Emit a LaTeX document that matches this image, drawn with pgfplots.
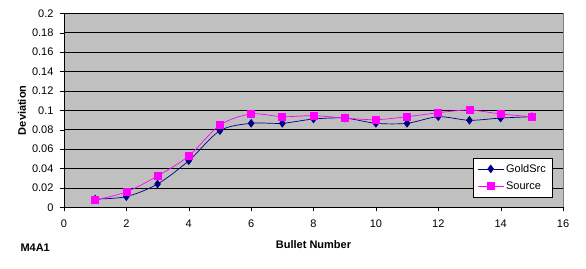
\documentclass[border=0pt]{standalone}
\usepackage{pgfplots}
\pgfplotsset{compat=1.18}
\usepackage{fontspec}
\setmainfont{Liberation Sans}
\definecolor{plotbg}{HTML}{C0C0C0}
\definecolor{navyline}{HTML}{000080}
\definecolor{magline}{HTML}{FF00FF}
\begin{document}
\begin{tikzpicture}
\useasboundingbox[fill=white] (-64bp,-61.7bp) rectangle (522bp,207.3bp);
\begin{axis}[
  at={(0,0)}, anchor=south west,
  scale only axis, width=499bp, height=194bp,
  xmin=0, xmax=16, ymin=0, ymax=0.2,
  xtick={0,2,...,16}, ytick={0,0.02,...,0.2},
  axis lines=left, axis line style={-, black},
  axis background/.style={fill=plotbg, draw=gray},
  ymajorgrids, major grid style={black, line width=0.8pt},
  tick align=outside, major tick length=4bp, tick style={black},
  /pgf/number format/assume math mode=true,
  /pgf/number format/fixed, /pgf/number format/precision=2,
  ticklabel style={font=\fontsize{11bp}{13bp}\selectfont},
  xticklabel style={yshift=-5bp},
  yticklabel style={xshift=-3bp},
  xlabel={\textbf{Bullet Number}},
  label style={font=\fontsize{11bp}{13bp}\selectfont},
  xlabel style={at={(0.5,0)}, anchor=center, yshift=-37bp},
  legend style={at={(0.978,0.053)}, anchor=south east, draw=black, fill=white,
    font=\fontsize{11bp}{13bp}\selectfont, row sep=4bp, inner xsep=4bp, inner ysep=4bp},
  legend image code/.code={
    \draw[mark repeat=2,mark phase=2,#1] plot coordinates {(0bp,0bp) (13bp,0bp) (26bp,0bp)};},
  legend cell align=left,
  clip=false,
]
\addplot[navyline, line width=0.7pt, smooth, tension=0.5, mark=diamond*, mark size=3.8bp, mark options={fill=navyline, solid}]
 coordinates {(1,0.0085)(2,0.011)(3,0.024)(4,0.048)(5,0.079)(6,0.0866)(7,0.0866)(8,0.091)(9,0.092)(10,0.0866)(11,0.0866)(12,0.0934)(13,0.0897)(14,0.092)(15,0.0934)};
\addlegendentry{GoldSrc}
\addplot[magline, line width=0.7pt, smooth, tension=0.5, mark=square*, mark size=3.5bp, mark options={fill=magline, solid}]
 coordinates {(1,0.0075)(2,0.0158)(3,0.0323)(4,0.0529)(5,0.0848)(6,0.0962)(7,0.0934)(8,0.0945)(9,0.092)(10,0.0903)(11,0.0934)(12,0.0975)(13,0.1003)(14,0.0962)(15,0.0934)};
\addlegendentry{Source}
\end{axis}
\node[rotate=90, anchor=center, font=\bfseries\fontsize{11bp}{13bp}\selectfont] at (-42bp,97bp) {Deviation};
\node[anchor=west, font=\bfseries\fontsize{11bp}{13bp}\selectfont] at (-47bp,-40bp) {M4A1};
\end{tikzpicture}
\end{document}
